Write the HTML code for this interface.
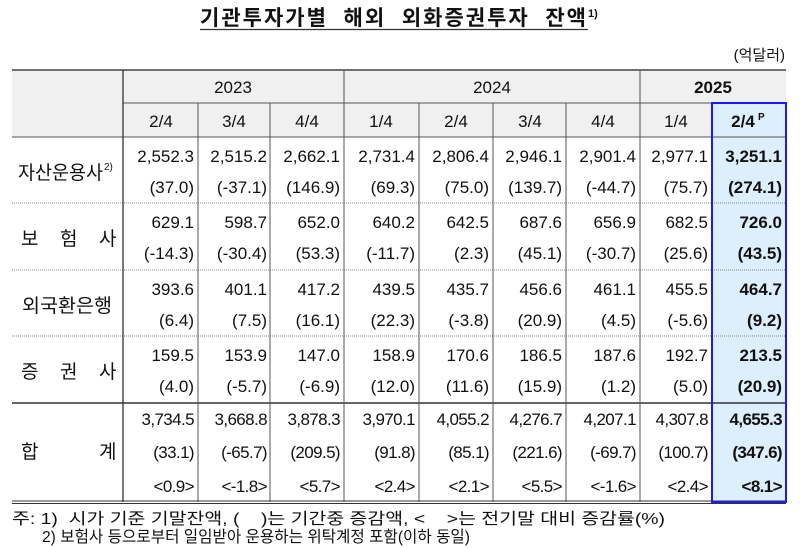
<!DOCTYPE html>
<html><head><meta charset="utf-8"><style>
html,body{margin:0;padding:0;background:#fff;}
svg{display:block;}
text{font-family:"Liberation Sans","Noto Sans CJK KR",sans-serif;fill:#111;white-space:pre;}
</style></head><body>
<svg width="800" height="548" viewBox="0 0 800 548" xmlns="http://www.w3.org/2000/svg" xml:space="preserve">
<text x="200" y="25" font-size="21" font-weight="bold" textLength="386" lengthAdjust="spacing">기관투자가별  해외  외화증권투자  잔액</text>
<text x="588" y="17" font-size="11" font-weight="bold">1)</text>
<line x1="200" y1="29.5" x2="588" y2="29.5" stroke="#333" stroke-width="1.2"/>
<text x="785" y="60" font-size="15" text-anchor="end">(억달러)</text>
<rect x="12" y="70" width="774" height="67" fill="#f0f0f0"/>
<rect x="712" y="103" width="74" height="399" fill="#ddeefc"/>
<line x1="12" y1="70" x2="786" y2="70" stroke="#444" stroke-width="1.5"/>
<line x1="123" y1="103" x2="786" y2="103" stroke="#555" stroke-width="1"/>
<line x1="12" y1="137" x2="786" y2="137" stroke="#555" stroke-width="1"/>
<g stroke="#888" stroke-width="1" stroke-dasharray="1,1">
<line x1="12" y1="203" x2="786" y2="203"/>
<line x1="12" y1="270" x2="786" y2="270"/>
<line x1="12" y1="336" x2="786" y2="336"/>
</g>
<line x1="12" y1="403" x2="786" y2="403" stroke="#333" stroke-width="1.5"/>
<line x1="12" y1="501" x2="786" y2="501" stroke="#333" stroke-width="1"/>
<line x1="12" y1="503.5" x2="786" y2="503.5" stroke="#333" stroke-width="1"/>
<line x1="123" y1="70" x2="123" y2="502" stroke="#333" stroke-width="1.3"/>
<g stroke="#555" stroke-width="1">
<line x1="198" y1="103" x2="198" y2="502"/>
<line x1="270" y1="103" x2="270" y2="502"/>
<line x1="344" y1="70" x2="344" y2="502"/>
<line x1="419" y1="103" x2="419" y2="502"/>
<line x1="493" y1="103" x2="493" y2="502"/>
<line x1="566" y1="103" x2="566" y2="502"/>
<line x1="640" y1="70" x2="640" y2="502"/>
</g>
<rect x="712" y="103" width="74" height="399" fill="none" stroke="#1a1aff" stroke-width="2"/>
<g font-size="17" text-anchor="middle">
<text x="233" y="93">2023</text>
<text x="492" y="93">2024</text>
<text x="713" y="93" font-weight="bold">2025</text>
<text x="161" y="127">2/4</text>
<text x="234" y="127">3/4</text>
<text x="307" y="127">4/4</text>
<text x="381" y="127">1/4</text>
<text x="456" y="127">2/4</text>
<text x="530" y="127">3/4</text>
<text x="603" y="127">4/4</text>
<text x="676" y="127">1/4</text>
<text x="743" y="127" font-weight="bold">2/4</text>
</g>
<text x="758" y="120" font-size="10" font-weight="bold">P</text>
<g font-size="19">
<text x="18" y="179" textLength="85" lengthAdjust="spacingAndGlyphs">자산운용사</text>
<text x="104" y="170" font-size="10">2)</text>
<text x="21" y="245">보</text><text x="60" y="245">험</text><text x="99" y="245">사</text>
<text x="22" y="312" textLength="90" lengthAdjust="spacingAndGlyphs">외국환은행</text>
<text x="21" y="378">증</text><text x="60" y="378">권</text><text x="99" y="378">사</text>
<text x="21" y="458">합</text><text x="99" y="458">계</text>
</g>
<g font-size="17" text-anchor="end">
<g>
<text x="194" y="162">2,552.3</text><text x="267" y="162">2,515.2</text><text x="340" y="162">2,662.1</text><text x="415" y="162">2,731.4</text><text x="489" y="162">2,806.4</text><text x="562" y="162">2,946.1</text><text x="636" y="162">2,901.4</text><text x="708" y="162">2,977.1</text><text x="782" y="162" font-weight="bold">3,251.1</text>
<text x="194" y="193">(37.0)</text><text x="267" y="193">(-37.1)</text><text x="340" y="193">(146.9)</text><text x="415" y="193">(69.3)</text><text x="489" y="193">(75.0)</text><text x="562" y="193">(139.7)</text><text x="636" y="193">(-44.7)</text><text x="708" y="193">(75.7)</text><text x="782" y="193" font-weight="bold">(274.1)</text>
</g>
<g>
<text x="194" y="228">629.1</text><text x="267" y="228">598.7</text><text x="340" y="228">652.0</text><text x="415" y="228">640.2</text><text x="489" y="228">642.5</text><text x="562" y="228">687.6</text><text x="636" y="228">656.9</text><text x="708" y="228">682.5</text><text x="782" y="228" font-weight="bold">726.0</text>
<text x="194" y="259">(-14.3)</text><text x="267" y="259">(-30.4)</text><text x="340" y="259">(53.3)</text><text x="415" y="259">(-11.7)</text><text x="489" y="259">(2.3)</text><text x="562" y="259">(45.1)</text><text x="636" y="259">(-30.7)</text><text x="708" y="259">(25.6)</text><text x="782" y="259" font-weight="bold">(43.5)</text>
</g>
<g>
<text x="194" y="295">393.6</text><text x="267" y="295">401.1</text><text x="340" y="295">417.2</text><text x="415" y="295">439.5</text><text x="489" y="295">435.7</text><text x="562" y="295">456.6</text><text x="636" y="295">461.1</text><text x="708" y="295">455.5</text><text x="782" y="295" font-weight="bold">464.7</text>
<text x="194" y="326">(6.4)</text><text x="267" y="326">(7.5)</text><text x="340" y="326">(16.1)</text><text x="415" y="326">(22.3)</text><text x="489" y="326">(-3.8)</text><text x="562" y="326">(20.9)</text><text x="636" y="326">(4.5)</text><text x="708" y="326">(-5.6)</text><text x="782" y="326" font-weight="bold">(9.2)</text>
</g>
<g>
<text x="194" y="361">159.5</text><text x="267" y="361">153.9</text><text x="340" y="361">147.0</text><text x="415" y="361">158.9</text><text x="489" y="361">170.6</text><text x="562" y="361">186.5</text><text x="636" y="361">187.6</text><text x="708" y="361">192.7</text><text x="782" y="361" font-weight="bold">213.5</text>
<text x="194" y="392">(4.0)</text><text x="267" y="392">(-5.7)</text><text x="340" y="392">(-6.9)</text><text x="415" y="392">(12.0)</text><text x="489" y="392">(11.6)</text><text x="562" y="392">(15.9)</text><text x="636" y="392">(1.2)</text><text x="708" y="392">(5.0)</text><text x="782" y="392" font-weight="bold">(20.9)</text>
</g>
<g letter-spacing="-0.6">
<text x="194" y="425">3,734.5</text><text x="267" y="425">3,668.8</text><text x="340" y="425">3,878.3</text><text x="415" y="425">3,970.1</text><text x="489" y="425">4,055.2</text><text x="562" y="425">4,276.7</text><text x="636" y="425">4,207.1</text><text x="708" y="425">4,307.8</text><text x="782" y="425" font-weight="bold">4,655.3</text>
<text x="194" y="458">(33.1)</text><text x="267" y="458">(-65.7)</text><text x="340" y="458">(209.5)</text><text x="415" y="458">(91.8)</text><text x="489" y="458">(85.1)</text><text x="562" y="458">(221.6)</text><text x="636" y="458">(-69.7)</text><text x="708" y="458">(100.7)</text><text x="782" y="458" font-weight="bold">(347.6)</text>
<text x="194" y="492">&lt;0.9&gt;</text><text x="267" y="492">&lt;-1.8&gt;</text><text x="340" y="492">&lt;5.7&gt;</text><text x="415" y="492">&lt;2.4&gt;</text><text x="489" y="492">&lt;2.1&gt;</text><text x="562" y="492">&lt;5.5&gt;</text><text x="636" y="492">&lt;-1.6&gt;</text><text x="708" y="492">&lt;2.4&gt;</text><text x="782" y="492" font-weight="bold">&lt;8.1&gt;</text>
</g>
</g>
<g font-size="16">
<text x="12" y="524" textLength="653" lengthAdjust="spacingAndGlyphs">주: 1)  시가 기준 기말잔액, (    )는 기간중 증감액, &lt;    &gt;는 전기말 대비 증감률(%)</text>
<text x="42" y="542" textLength="428" lengthAdjust="spacingAndGlyphs">2) 보험사 등으로부터 일임받아 운용하는 위탁계정 포함(이하 동일)</text>
</g>
</svg>
</body></html>
